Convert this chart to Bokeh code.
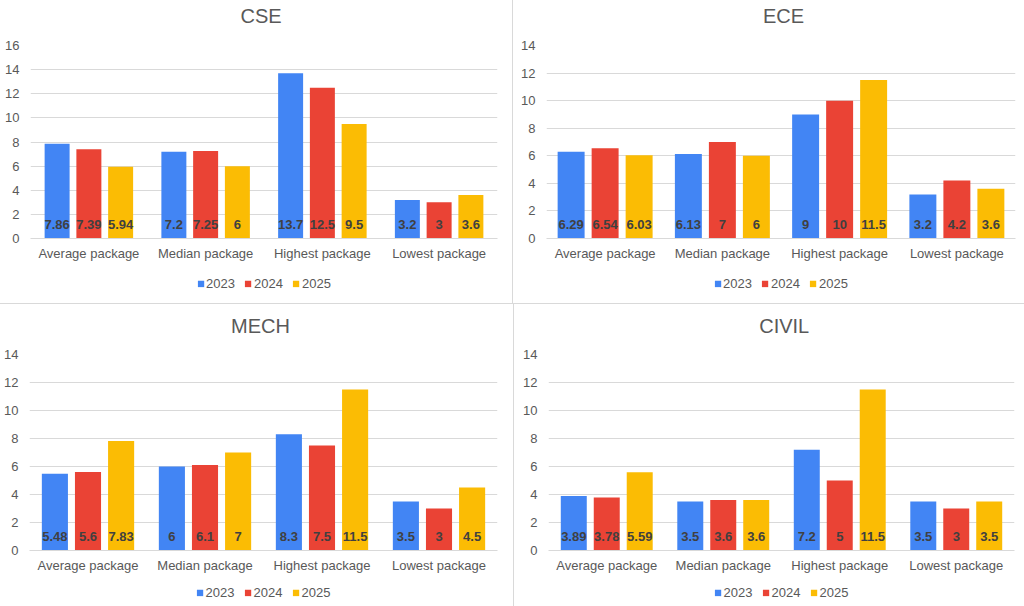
from bokeh.plotting import figure
from bokeh.layouts import row, column
from bokeh.models import ColumnDataSource, Legend, LegendItem, FixedTicker, Range1d
from bokeh.transform import dodge
from bokeh.core.properties import value
from bokeh.embed import file_html
from bokeh.resources import INLINE

categories = ["Average package", "Median package", "Highest package", "Lowest package"]
years = ["2023", "2024", "2025"]
colors = ["#4285F4", "#EA4335", "#FBBC04"]

cse_2023 = [7.86, 7.2, 13.7, 3.2]
cse_2024 = [7.39, 7.25, 12.5, 3]
cse_2025 = [5.94, 6, 9.5, 3.6]

ece_2023 = [6.29, 6.13, 9, 3.2]
ece_2024 = [6.54, 7, 10, 4.2]
ece_2025 = [6.03, 6, 11.5, 3.6]

mech_2023 = [5.48, 6, 8.3, 3.5]
mech_2024 = [5.6, 6.1, 7.5, 3]
mech_2025 = [7.83, 7, 11.5, 4.5]

civil_2023 = [3.89, 3.5, 7.2, 3.5]
civil_2024 = [3.78, 3.6, 5, 3]
civil_2025 = [5.59, 3.6, 11.5, 3.5]

FONT = "Liberation Sans"
GRID = "#D9D9D9"
TEXT = "#595959"


def fmt(v):
    return f"{v:g}"


def bare_fig(w, h, left=0):
    f = figure(width=w, height=h, x_range=Range1d(0, 1), y_range=Range1d(0, 1),
               output_backend="svg", toolbar_location=None,
               x_axis_type=None, y_axis_type=None,
               min_border_left=left, min_border_right=0,
               min_border_top=0, min_border_bottom=0)
    f.outline_line_color = None
    f.background_fill_color = "white"
    f.border_fill_color = "white"
    return f


def title_fig(text, w, h, dx):
    t = bare_fig(w, h)
    src = ColumnDataSource(dict(x=[0.5], y=[0.5], t=[text]))
    t.text(x="x", y="y", text="t", source=src, x_offset=dx,
           text_align="center", text_baseline="middle",
           text_font=value(FONT), text_font_size="20px", text_color=TEXT)
    return t


def legend_fig(w, h, left):
    f = bare_fig(w, h, left)
    items = []
    for yr, col in zip(years, colors):
        # one placeholder bar outside the visible range so the legend swatch is drawn
        r = f.vbar(x=[-10], top=[0], width=0.1, fill_color=col, line_color=None)
        items.append(LegendItem(label=yr, renderers=[r], index=0))
    leg = Legend(items=items, orientation="horizontal", location="center",
                 glyph_width=8, glyph_height=8, label_standoff=2, spacing=9,
                 label_height=8, padding=0, margin=0,
                 label_text_font=FONT, label_text_font_size="13px", label_text_color=TEXT,
                 border_line_color=None, background_fill_alpha=0)
    f.add_layout(leg, "center")
    return f


def chart(series, ymax, fw, fh, bl, br, bt, bb, bar_w, off):
    p = figure(x_range=categories, y_range=(0, ymax), frame_width=fw, frame_height=fh,
               output_backend="svg", toolbar_location=None,
               min_border_left=bl, min_border_right=br,
               min_border_top=bt, min_border_bottom=bb)
    p.outline_line_color = None

    p.yaxis.ticker = FixedTicker(ticks=list(range(0, ymax + 1, 2)))
    p.yaxis.axis_line_color = None
    p.yaxis.major_tick_line_color = None
    p.yaxis.minor_tick_line_color = None
    p.yaxis.major_tick_out = 0
    p.yaxis.major_label_standoff = 11
    p.yaxis.major_label_text_font = FONT
    p.yaxis.major_label_text_font_size = "13px"
    p.yaxis.major_label_text_color = TEXT

    p.xaxis.axis_line_color = GRID
    p.xaxis.major_tick_line_color = None
    p.xaxis.minor_tick_line_color = None
    p.xaxis.major_tick_out = 0
    p.xaxis.major_label_standoff = 7
    p.xaxis.major_label_text_font = FONT
    p.xaxis.major_label_text_font_size = "13px"
    p.xaxis.major_label_text_color = TEXT

    p.xgrid.grid_line_color = None
    p.ygrid.grid_line_color = GRID

    offsets = [-off, 0.0, off]
    for vals, col, o in zip(series, colors, offsets):
        src = ColumnDataSource(dict(cat=categories, v=vals, lab=[fmt(x) for x in vals],
                                    zero=[0] * len(vals)))
        p.vbar(x=dodge("cat", o, range=p.x_range), top="v", width=bar_w, source=src,
               fill_color=col, line_color=None)
        p.text(x=dodge("cat", o, range=p.x_range), y="zero", text="lab", source=src,
               text_align="center", text_baseline="middle", y_offset=-14,
               text_font=value(FONT), text_font_size="13px", text_font_style="bold",
               text_color="#404040")
    return p


WHITE = {"background-color": "white"}

# top row: title 31 + chart 231 (14 + 193 + 24) + legend 40 = 302
cse = column(title_fig("CSE", 512, 31, -3),
             chart([cse_2023, cse_2024, cse_2025], 16, 467, 193, 30, 15, 14, 24, 0.214, 0.272),
             legend_fig(512, 40, 0), styles=WHITE)
ece = column(title_fig("ECE", 511, 31, 2.5),
             chart([ece_2023, ece_2024, ece_2025], 14, 469, 193, 33, 9, 14, 24, 0.23, 0.29),
             legend_fig(511, 40, 10), styles=WHITE)
# bottom row: title 43 + chart 230 (7 + 196 + 27) + legend 30 = 303
mech = column(title_fig("MECH", 513, 43, -3),
              chart([mech_2023, mech_2024, mech_2025], 14, 468, 196, 29, 16, 7, 27, 0.223, 0.283),
              legend_fig(513, 30, 0), styles=WHITE)
civil = column(title_fig("CIVIL", 510, 43, 2.7),
               chart([civil_2023, civil_2024, civil_2025], 14, 466, 196, 34, 10, 7, 27, 0.223, 0.283),
               legend_fig(510, 30, 10), styles=WHITE)

layout = column(row(cse, ece, spacing=1), row(mech, civil, spacing=1), spacing=1,
                styles={"background-color": "#D9D9D9"})

html = file_html(layout, INLINE)
html = html.replace("</head>", "<style>body{margin:0;}</style></head>", 1)
open("out.html", "w").write(html)
